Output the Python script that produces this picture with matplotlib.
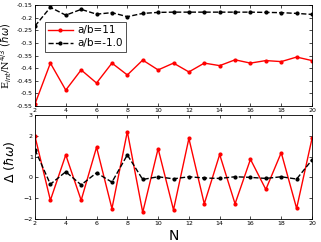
import matplotlib

matplotlib.use("Agg")

import matplotlib.pyplot as plt
import numpy as np

# N values shared by both panels
n_values = list(range(2, 21))

# top panel: interaction energy per N^(4/3)
eint_ab11 = [-0.542, -0.38, -0.487, -0.407, -0.459, -0.38, -0.427, -0.368, -0.407,
             -0.38, -0.415, -0.38, -0.39, -0.367, -0.38, -0.37, -0.374, -0.356, -0.37]
eint_abm1 = [-0.233, -0.159, -0.19, -0.167, -0.186, -0.18, -0.196, -0.183, -0.179,
             -0.178, -0.178, -0.178, -0.178, -0.178, -0.178, -0.179, -0.18, -0.183, -0.187]

# bottom panel: gap
delta_ab11 = [1.97, -1.1, 1.08, -1.1, 1.45, -1.5, 2.2, -1.68, 1.38,
              -1.56, 1.87, -1.27, 1.1, -1.27, 0.87, -0.58, 1.19, -1.49, 1.87]
delta_abm1 = [1.33, -0.33, 0.27, -0.36, 0.22, -0.23, 1.08, -0.1, 0.03,
              -0.07, 0.03, -0.03, -0.05, 0.03, 0.0, -0.05, 0.03, -0.08, 0.84]

labels = ["a/b=11", "a/b=-1.0"]

fig = plt.figure(figsize=(3.21, 2.42), dpi=100)
ax1 = fig.add_axes([0.109, 0.562, 0.863, 0.417])
ax2 = fig.add_axes([0.109, 0.095, 0.863, 0.43])

red_style = dict(color="red", linewidth=1.0, marker="o", markersize=2.0)
blk_style = dict(color="black", linewidth=1.0, linestyle="--", marker="o", markersize=2.0)

ax1.plot(n_values, eint_ab11, label=labels[0], **red_style)
ax1.plot(n_values, eint_abm1, label=labels[1], **blk_style)
ax2.plot(n_values, delta_ab11, **red_style)
ax2.plot(n_values, delta_abm1, **blk_style)

ax1.set_xlim(2, 20)
ax1.set_ylim(-0.55, -0.15)
ax1.set_yticks(np.arange(-0.55, -0.149, 0.05))
ax1.set_yticklabels(["-0.55", "-0.5", "-0.45", "-0.4", "-0.35", "-0.3", "-0.25", "-0.2", "-0.15"])
ax2.set_xlim(2, 20)
ax2.set_ylim(-2, 3)
ax2.set_yticks([-2, -1, 0, 1, 2, 3])

for ax in (ax1, ax2):
    ax.set_xticks(range(2, 21, 2))
    ax.tick_params(direction="in", top=True, right=True, labelsize=4.5,
                   length=2.5, width=0.5, pad=1.5)
    for spine in ax.spines.values():
        spine.set_linewidth(0.6)

ax1.set_ylabel(r"E$_{int}$/N$^{4/3}$ $(\hbar\omega)$", fontsize=7,
               family="serif")
ax1.yaxis.set_label_coords(-0.075, 0.5)
ax2.set_ylabel(r"$\Delta$ $(\hbar\omega)$", fontsize=9, family="serif")
ax2.yaxis.set_label_coords(-0.065, 0.55)
ax2.set_xlabel("N", fontsize=10, labelpad=2)

leg = ax1.legend(loc="upper left", bbox_to_anchor=(0.035, 0.83), fontsize=7.5,
                 frameon=True, fancybox=False, edgecolor="black",
                 handlelength=2.4, borderpad=0.3, labelspacing=0.3,
                 handletextpad=0.4, borderaxespad=0)
leg.get_frame().set_linewidth(0.6)

fig.savefig("out.png", dpi=100, facecolor="white")
plt.close(fig)
